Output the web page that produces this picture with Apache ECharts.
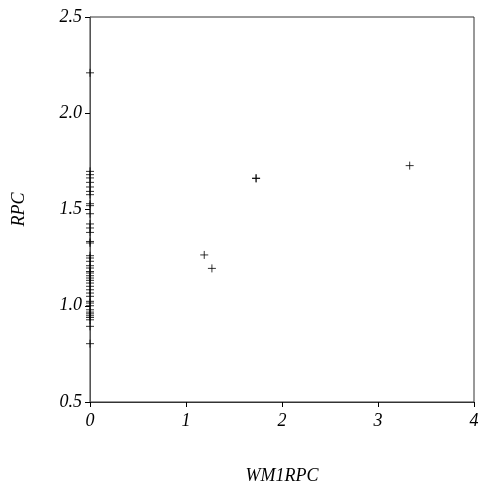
<!DOCTYPE html>
<html>
<head>
<meta charset="utf-8">
<script src="https://cdn.jsdelivr.net/npm/echarts@6/dist/echarts.min.js"></script>
<style>html,body{margin:0;padding:0;background:#fff;}#c{width:482px;height:490px;}</style>
</head>
<body>
<div id="c"></div>
<script>
var xValues = [0,0,0,0,0,0,0,0,0,0,0,0,0,0,0,0,0,0,0,0,0,0,0,0,0,0,0,0,0,0,0,0,0,0,0,0,0,0,0,0,0,0,1.19,1.27,1.73,1.73,3.33];
var yValues = [2.21,1.698,1.681,1.664,1.641,1.617,1.594,1.577,1.530,1.520,1.478,1.425,1.404,1.381,1.334,1.326,1.260,1.248,1.231,1.208,1.196,1.178,1.170,1.156,1.144,1.132,1.118,1.101,1.083,1.066,1.049,1.023,1.014,1.000,0.979,0.967,0.958,0.948,0.939,0.927,0.893,0.803,1.264,1.194,1.661,1.663,1.728];
var xTicks = [0,1,2,3,4];
var yTicks = [0.5,1.0,1.5,2.0,2.5];
var xName = 'WM1RPC';
var yName = 'RPC';

var pts = xValues.map(function(x,i){return [x,yValues[i]];});
var font = 'Liberation Serif';
var chart = echarts.init(document.getElementById('c'));
chart.setOption({
  animation:false,
  grid:{left:90,right:8,top:17,bottom:88,show:true,borderColor:'#333',borderWidth:1,backgroundColor:'transparent'},
  xAxis:{type:'value',min:xTicks[0],max:xTicks[xTicks.length-1],interval:1,
    name:xName,nameLocation:'middle',nameGap:65,
    nameTextStyle:{fontFamily:font,fontStyle:'italic',fontSize:18,color:'#000'},
    axisLine:{show:true,onZero:false,lineStyle:{color:'#333',width:1}},
    axisTick:{show:true,length:5,lineStyle:{color:'#000'}},
    axisLabel:{fontFamily:font,fontStyle:'italic',fontSize:18,color:'#000',margin:10},
    splitLine:{show:false}},
  yAxis:{type:'value',min:yTicks[0],max:yTicks[yTicks.length-1],interval:0.5,
    name:yName,nameLocation:'middle',nameGap:62,nameRotate:90,
    nameTextStyle:{fontFamily:font,fontStyle:'italic',fontSize:18,color:'#000'},
    axisLine:{show:true,onZero:false,lineStyle:{color:'#555',width:1}},
    axisTick:{show:true,length:5,lineStyle:{color:'#000'}},
    axisLabel:{fontFamily:font,fontStyle:'italic',fontSize:18,color:'#000',margin:8,
      formatter:function(v){return v.toFixed(1);}},
    splitLine:{show:false}},
  series:[{type:'scatter',data:pts,
    symbol:'path://M0,5L10,5M5,0L5,10',symbolSize:8,
    itemStyle:{color:'none',borderColor:'#000',borderWidth:1}}]
});
</script>
</body>
</html>
